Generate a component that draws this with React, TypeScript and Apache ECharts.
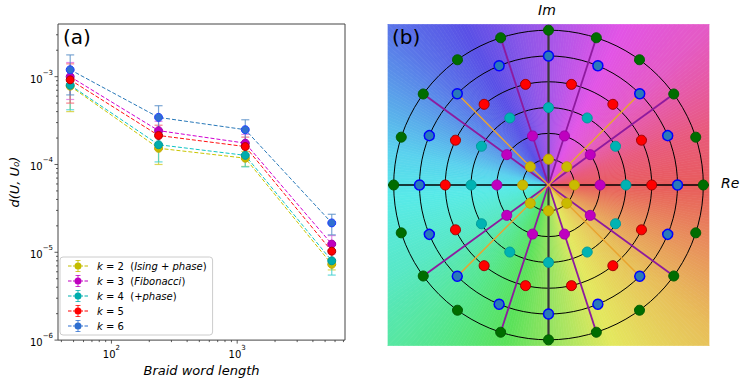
import { useEffect, useRef } from 'react';
import * as echarts from 'echarts';

const FONT = '"DejaVu Sans", "Liberation Sans", sans-serif';

// ---------- Panel (a) data ----------
const braidLengths = [47, 237, 1160, 5650];
const kLabels = ['k = 2', 'k = 3', 'k = 4', 'k = 5', 'k = 6'];
const kNotes = ['Ising + phase', 'Fibonacci', '+phase', '', ''];

const distK2 = [7.8e-4, 1.53e-4, 1.18e-4, 7.3e-6];
const distK3 = [1.0e-3, 2.43e-4, 1.75e-4, 1.24e-5];
const distK4 = [8.0e-4, 1.68e-4, 1.27e-4, 8.0e-6];
const distK5 = [9.2e-4, 2.14e-4, 1.6e-4, 1.03e-5];
const distK6 = [1.2e-3, 3.44e-4, 2.49e-4, 2.16e-5];

const lowK2 = [4.0e-4, 1.0e-4, 0.95e-4, 6.3e-6];
const highK2 = [1.16e-3, 2.06e-4, 1.41e-4, 8.3e-6];
const lowK3 = [5.5e-4, 1.7e-4, 1.3e-4, 9.6e-6];
const highK3 = [1.45e-3, 3.1e-4, 2.2e-4, 1.55e-5];
const lowK4 = [4.2e-4, 1.07e-4, 0.94e-4, 5.5e-6];
const highK4 = [1.18e-3, 2.3e-4, 1.6e-4, 1.05e-5];
const lowK5 = [5.0e-4, 1.5e-4, 1.2e-4, 8.0e-6];
const highK5 = [1.4e-3, 2.8e-4, 2.05e-4, 1.26e-5];
const lowK6 = [6.2e-4, 2.2e-4, 1.75e-4, 1.58e-5];
const highK6 = [1.77e-3, 4.67e-4, 3.23e-4, 2.71e-5];

const xMin = 37.6;
const xMax = 7200;
const yMin = 1e-6;
const yMax = 3.98e-3;

// ---------- Panel (b) data ----------
const ringRadii = [1, 2, 3, 4, 5, 6];
const ringCounts = [8, 10, 12, 14, 16, 20];
const purpleRayAngles = [36, 72, 108, 144, 216, 252, 288, 324];
const purpleRayLength = 6;
const orangeRayAngles = [45, 135, 225, 315];
const orangeRayLength = 5;
const planeHalf = 6.22;
const bgStops: [number, string][] = [
  [0, '#e85c5c'], [20, '#e85a7e'], [45, '#e45ac6'], [65, '#e254e6'], [85, '#b256e8'],
  [100, '#8c56e8'], [118, '#5a50e6'], [134, '#5a72e8'], [152, '#5aa6ea'], [168, '#5ad2ee'],
  [185, '#58eae8'], [210, '#58e8c6'], [235, '#56e68c'], [255, '#5ae25a'], [272, '#9ae462'],
  [292, '#e4e85e'], [318, '#e8be5a'], [340, '#e88c5c'], [360, '#e85c5c'],
];

const kStyles = [
  { fill: '#c4bc00', edge: '#c8a800', line: '#c8c400', err: '#d4cc30' },
  { fill: '#bf00bf', edge: '#a000a8', line: '#d000d0', err: '#e070e0' },
  { fill: '#00adad', edge: '#009898', line: '#10c4c4', err: '#40d0d0' },
  { fill: '#ff0000', edge: '#b00000', line: '#ff1010', err: '#f86070' },
  { fill: '#2f6fd0', edge: '#1f3fff', line: '#2878b8', err: '#5a90c8' },
];
const ringStyles = [
  { fill: '#c9bb00', edge: '#c8a000', bw: 1 },
  { fill: '#bf00bf', edge: '#a000a8', bw: 1 },
  { fill: '#00b3b3', edge: '#009a9a', bw: 1 },
  { fill: '#ff0000', edge: '#a00000', bw: 1 },
  { fill: '#2a7ab8', edge: '#0000ff', bw: 1.5 },
  { fill: '#006d00', edge: '#005a00', bw: 1 },
];

function powLabel(v: number) {
  const l = Math.log10(v);
  const e = Math.round(l);
  if (Math.abs(l - e) > 0.01) return '';
  const ex = e < 0 ? '−' + Math.abs(e) : String(e);
  return `{b|10}{s|${ex}}`;
}
const tickRich = {
  b: { fontFamily: FONT, fontSize: 10, color: '#000', padding: [5, 0, 0, 0], verticalAlign: 'bottom' },
  s: { fontFamily: FONT, fontSize: 7, color: '#000', verticalAlign: 'top' },
};

function hexToRgb(h: string) {
  const n = parseInt(h.slice(1), 16);
  return [(n >> 16) & 255, (n >> 8) & 255, n & 255];
}
function bgColor(deg: number) {
  for (let i = 0; i < bgStops.length - 1; i++) {
    const [a0, c0] = bgStops[i];
    const [a1, c1] = bgStops[i + 1];
    if (deg >= a0 && deg <= a1) {
      const t = (deg - a0) / (a1 - a0);
      const p = hexToRgb(c0);
      const q = hexToRgb(c1);
      const r = p.map((v, k) => Math.round(v + (q[k] - v) * t));
      return `rgb(${r[0]},${r[1]},${r[2]})`;
    }
  }
  return bgStops[0][1];
}

function buildOption() {
  const dists = [distK2, distK3, distK4, distK5, distK6];
  const lows = [lowK2, lowK3, lowK4, lowK5, lowK6];
  const highs = [highK2, highK3, highK4, highK5, highK6];

  const series: any[] = [];

  // tick marks for panel (a) (matplotlib-style log ticks)
  const tickData: number[][] = [];
  for (let d = 1; d <= 3; d++) {
    for (let m = 1; m <= 9; m++) {
      const v = m * Math.pow(10, d);
      if (v > xMin && v < xMax) tickData.push([v, yMin, m === 1 ? 3.5 : 2, 0]);
    }
  }
  for (let d = -6; d <= -3; d++) {
    for (let m = 1; m <= 9; m++) {
      const v = m * Math.pow(10, d);
      if (v >= yMin && v < yMax) tickData.push([xMin, v, m === 1 ? 3.5 : 2, 1]);
    }
  }
  series.push({
    type: 'custom',
    xAxisIndex: 0,
    yAxisIndex: 0,
    silent: true,
    z: 1,
    encode: { x: 0, y: 1 },
    data: tickData,
    renderItem: (_p: any, api: any) => {
      const p = api.coord([api.value(0), api.value(1)]);
      const len = api.value(2);
      const isY = api.value(3) === 1;
      return {
        type: 'line',
        shape: isY
          ? { x1: p[0], y1: p[1], x2: p[0] - len, y2: p[1] }
          : { x1: p[0], y1: p[1], x2: p[0], y2: p[1] + len },
        style: { stroke: '#333', lineWidth: 0.8 },
      };
    },
  });

  kLabels.forEach((name, i) => {
    const st = kStyles[i];
    series.push({
      type: 'custom',
      name: name + '_err',
      xAxisIndex: 0,
      yAxisIndex: 0,
      silent: true,
      z: 3,
      encode: { x: 0, y: [1, 2] },
      data: braidLengths.map((x, j) => [x, lows[i][j], highs[i][j]]),
      renderItem: (_p: any, api: any) => {
        const x = api.value(0);
        const a = api.coord([x, api.value(1)]);
        const b = api.coord([x, api.value(2)]);
        const style = { stroke: st.err, lineWidth: 1.2, opacity: 0.8 };
        return {
          type: 'group',
          children: [
            { type: 'line', shape: { x1: a[0], y1: a[1], x2: b[0], y2: b[1] }, style },
            { type: 'line', shape: { x1: a[0] - 4, y1: a[1], x2: a[0] + 4, y2: a[1] }, style },
            { type: 'line', shape: { x1: b[0] - 4, y1: b[1], x2: b[0] + 4, y2: b[1] }, style },
          ],
        };
      },
    });
    series.push({
      type: 'line',
      name,
      xAxisIndex: 0,
      yAxisIndex: 0,
      z: 3,
      data: braidLengths.map((x, j) => [x, dists[i][j]]),
      symbol: 'circle',
      symbolSize: 8,
      itemStyle: { color: st.fill, borderColor: st.edge, borderWidth: 1 },
      lineStyle: { color: st.line, width: 1, type: [4, 2] },
      emphasis: { disabled: true },
    });
  });

  // Panel (b) background (phase colouring)
  const bgIdx = Array.from({ length: 360 }, (_, i) => [i, 0]);
  const bnd = (deg: number) => {
    const t = (deg * Math.PI) / 180;
    const c = Math.cos(t);
    const s = Math.sin(t);
    const m = Math.max(Math.abs(c), Math.abs(s));
    return [(planeHalf * c) / m, (planeHalf * s) / m];
  };
  series.push({
    type: 'custom',
    xAxisIndex: 1,
    yAxisIndex: 1,
    silent: true,
    z: 1,
    encode: { x: 0, y: 1 },
    data: bgIdx,
    renderItem: (p: any, api: any) => {
      const i = p.dataIndex;
      const o = api.coord([0, 0]);
      const p1 = api.coord(bnd(i));
      const p2 = api.coord(bnd(i + 1));
      const c = bgColor(i + 0.5);
      return {
        type: 'polygon',
        shape: { points: [o, p1, p2] },
        style: { fill: c, stroke: c, lineWidth: 0.7 },
      };
    },
  });

  // rings
  series.push({
    type: 'custom',
    xAxisIndex: 1,
    yAxisIndex: 1,
    silent: true,
    z: 2,
    encode: { x: 0, y: 1 },
    data: ringRadii.map((r) => [r, 0]),
    renderItem: (_p: any, api: any) => {
      const c = api.coord([0, 0]);
      const rr = api.size([api.value(0), 0])[0];
      return {
        type: 'circle',
        shape: { cx: c[0], cy: c[1], r: rr },
        style: { fill: 'none', stroke: '#000', lineWidth: 1 },
      };
    },
  });

  // axes lines of the plane
  series.push({
    type: 'line',
    xAxisIndex: 1,
    yAxisIndex: 1,
    silent: true,
    z: 3,
    symbol: 'none',
    data: [[-planeHalf, 0], [planeHalf, 0]],
    lineStyle: { color: '#000', width: 1.5 },
  });
  series.push({
    type: 'line',
    xAxisIndex: 1,
    yAxisIndex: 1,
    silent: true,
    z: 3,
    symbol: 'none',
    data: [[0, -ringRadii[5]], [0, ringRadii[5]]],
    lineStyle: { color: '#383838', width: 2.2 },
  });

  // rays
  const rays = [
    ...purpleRayAngles.map((a) => [a, purpleRayLength, 0]),
    ...orangeRayAngles.map((a) => [a, orangeRayLength, 1]),
  ];
  series.push({
    type: 'custom',
    xAxisIndex: 1,
    yAxisIndex: 1,
    silent: true,
    z: 4,
    encode: { x: 0, y: 1 },
    data: rays,
    renderItem: (_p: any, api: any) => {
      const a = (api.value(0) * Math.PI) / 180;
      const len = api.value(1);
      const o = api.coord([0, 0]);
      const e = api.coord([len * Math.cos(a), len * Math.sin(a)]);
      const purple = api.value(2) === 0;
      return {
        type: 'line',
        shape: { x1: o[0], y1: o[1], x2: e[0], y2: e[1] },
        style: { stroke: purple ? '#8e1a9e' : '#e8a530', lineWidth: purple ? 1.8 : 1.5 },
      };
    },
  });

  // dots on rings
  ringRadii.forEach((r, i) => {
    const n = ringCounts[i];
    const st = ringStyles[i];
    series.push({
      type: 'scatter',
      xAxisIndex: 1,
      yAxisIndex: 1,
      silent: true,
      z: 5,
      symbol: 'circle',
      symbolSize: 10,
      itemStyle: { color: st.fill, borderColor: st.edge, borderWidth: st.bw, opacity: 1 },
      data: Array.from({ length: n }, (_, j) => {
        const t = (2 * Math.PI * j) / n;
        return [r * Math.cos(t), r * Math.sin(t)];
      }),
    });
  });

  const legendIcon =
    'path://M0,5.5H3.5V6.5H0Z M5,5.5H6.6V6.5H5Z M13.4,5.5H15V6.5H13.4Z M16.5,5.5H20V6.5H16.5Z ' +
    'M6.5,6A3.5,3.5 0 1 0 13.5,6A3.5,3.5 0 1 0 6.5,6Z M9.6,0H10.4V2.6H9.6Z M9.6,9.4H10.4V12H9.6Z ' +
    'M7.5,0H12.5V0.8H7.5Z M7.5,11.2H12.5V12H7.5Z';

  return {
    animation: false,
    backgroundColor: '#fff',
    textStyle: { fontFamily: FONT },
    grid: [
      { left: 58, top: 24, width: 287, height: 319, show: true, borderColor: '#444', borderWidth: 1, backgroundColor: 'transparent' },
      { left: 388, top: 24.5, width: 321, height: 321, show: false },
    ],
    xAxis: [
      {
        gridIndex: 0,
        type: 'log',
        logBase: 10,
        min: xMin,
        max: xMax,
        axisLine: { show: false },
        axisTick: { show: false },
        splitLine: { show: false },
        axisLabel: {
          showMinLabel: false,
          showMaxLabel: false,
          formatter: (v: number) => powLabel(v),
          rich: tickRich,
          fontFamily: FONT,
          fontSize: 10,
          color: '#000',
          margin: 4,
        },
        name: 'Braid word length',
        nameLocation: 'middle',
        nameGap: 18,
        nameTextStyle: { fontFamily: FONT, fontSize: 13, fontStyle: 'italic', color: '#000' },
      },
      { gridIndex: 1, type: 'value', min: -planeHalf, max: planeHalf, show: false },
    ],
    yAxis: [
      {
        gridIndex: 0,
        type: 'log',
        logBase: 10,
        min: yMin,
        max: yMax,
        axisLine: { show: false },
        axisTick: { show: false },
        splitLine: { show: false },
        axisLabel: {
          showMaxLabel: false,
          formatter: (v: number) => powLabel(v),
          rich: tickRich,
          fontFamily: FONT,
          fontSize: 10,
          color: '#000',
          margin: 5,
        },
        name: 'd(U, U₀)',
        nameLocation: 'middle',
        nameGap: 37,
        nameTextStyle: { fontFamily: FONT, fontSize: 13, fontStyle: 'italic', color: '#000' },
      },
      { gridIndex: 1, type: 'value', min: -planeHalf, max: planeHalf, show: false },
    ],
    legend: {
      data: kLabels.map((n) => ({ name: n, icon: legendIcon })),
      orient: 'vertical',
      left: 60,
      top: 257,
      itemWidth: 20,
      itemHeight: 12,
      itemGap: 3,
      padding: [3, 6, 3, 8],
      backgroundColor: '#fff',
      borderColor: '#ccc',
      borderWidth: 1,
      borderRadius: 3,
      selectedMode: false,
      itemStyle: { borderWidth: 0 },
      formatter: (name: string) => {
        const i = kLabels.indexOf(name);
        const num = name.split('= ')[1];
        let s = `{g|}{i|k}{n| = ${num}}`;
        if (kNotes[i]) s += `{n|  (}{i|${kNotes[i]}}{n|)}`;
        return s;
      },
      textStyle: {
        fontFamily: FONT,
        fontSize: 10,
        color: '#000',
        rich: {
          g: { width: 4 },
          i: { fontStyle: 'italic', fontFamily: FONT, fontSize: 10, color: '#000' },
          n: { fontFamily: FONT, fontSize: 10, color: '#000' },
        },
      },
    },
    graphic: [
      { type: 'text', z: 100, left: 63, top: 27, style: { text: '(a)', font: `20px ${FONT}`, fill: '#000' } },
      { type: 'text', z: 100, left: 392, top: 27, style: { text: '(b)', font: `20px ${FONT}`, fill: '#000' } },
      { type: 'text', z: 100, left: 538, top: 3, style: { text: 'Im', font: `italic 14px ${FONT}`, fill: '#000' } },
      { type: 'text', z: 100, left: 721, top: 176, style: { text: 'Re', font: `italic 14px ${FONT}`, fill: '#000' } },
    ],
    series,
  };
}

export default function App() {
  const ref = useRef<HTMLDivElement>(null);
  useEffect(() => {
    const chart = echarts.init(ref.current!, null, { renderer: 'svg' });
    chart.setOption(buildOption() as any);
    return () => chart.dispose();
  }, []);
  return (
    <div
      ref={ref}
      style={{ position: 'fixed', left: 0, top: 0, width: 748, height: 382, background: '#fff' }}
    />
  );
}
